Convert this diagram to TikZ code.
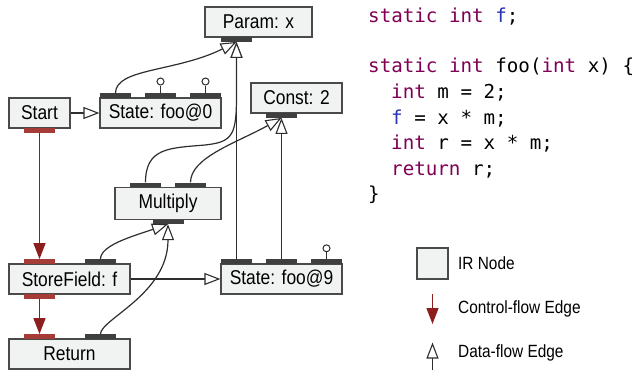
\documentclass[tikz,border=0pt]{standalone}
\usepackage{fontspec}
\setmainfont{Liberation Sans}
\newfontfamily\nodefont[FakeStretch=0.87]{Liberation Sans}
\newfontfamily\codefont{DejaVu Sans Mono}
\usetikzlibrary{arrows.meta}
\definecolor{boxfill}{HTML}{F1F2F2}
\definecolor{boxline}{HTML}{4A4A4A}
\definecolor{portdark}{HTML}{3F3F3F}
\definecolor{portred}{RGB}{165,60,55}
\definecolor{ctrlred}{RGB}{140,30,30}
\definecolor{kwpurple}{RGB}{127,0,85}
\definecolor{fieldblue}{RGB}{40,50,180}
\definecolor{edgegray}{HTML}{2E2E2E}
\tikzset{
  irnode/.style={draw=boxline, fill=boxfill, line width=1.2pt, inner sep=0pt, minimum height=30pt, font=\nodefont\fontsize{20}{24}\selectfont},
  dport/.style={fill=portdark, inner sep=0pt, minimum width=31pt, minimum height=4.5pt},
  rport/.style={dport, fill=portred},
  pincirc/.style={circle, draw=edgegray, fill=white, line width=1pt, inner sep=0pt, minimum size=7pt},
  pinline/.style={draw=edgegray, line width=1pt},
  dflow/.style={draw=edgegray, line width=1.2pt, -{Triangle[length=16pt,width=12pt,fill=white,line width=1.1pt]}},
  cflow/.style={draw=ctrlred, line width=1.3pt, -{Triangle[length=16pt,width=12pt]}},
  codeline/.style={anchor=base west, inner sep=0pt, font=\codefont\fontsize{19.2}{23}\selectfont},
  legtext/.style={anchor=west, inner sep=0pt, font=\nodefont\fontsize{17.7}{21}\selectfont}
}
\begin{document}
\begin{tikzpicture}[x=1pt,y=-1pt]
\useasboundingbox (0,0) rectangle (639,370);
% IR nodes
\node[irnode, minimum width=107pt] (param) at (258.5,22) {Param: x};
\node[irnode, minimum width=61pt] (start) at (39.5,113) {Start};
\node[irnode, minimum width=121pt] (s0) at (160.5,113) {State: foo@0};
\node[irnode, minimum width=91pt] (const) at (296.5,98) {Const: 2};
\node[irnode, minimum width=106pt, minimum height=32pt] (mul) at (168,203.3) {Multiply};
\node[irnode, minimum width=121pt] (store) at (69.5,279) {StoreField: f};
\node[irnode, minimum width=121pt] (s9) at (281.5,279) {State: foo@9};
\node[irnode, minimum width=121pt] (ret) at (69.5,354) {Return};
% ports
\node[dport, anchor=north] (paramo) at (236.5,37) {};
\node[rport, anchor=north] (starto) at (39.5,128) {};
\node[dport, anchor=south] (s0a) at (115.5,98) {};
\node[dport, anchor=south] (s0b) at (160.5,98) {};
\node[dport, anchor=south] (s0c) at (205.5,98) {};
\node[dport, anchor=north] (consto) at (281.5,113) {};
\node[dport, anchor=south] (mula) at (145.5,187.3) {};
\node[dport, anchor=south] (mulb) at (190.5,187.3) {};
\node[dport, anchor=north] (mulo) at (168,219.3) {};
\node[rport, anchor=south] (storea) at (39.5,264) {};
\node[dport, anchor=south] (storeb) at (100.5,264) {};
\node[rport, anchor=north] (storeo) at (39.5,294) {};
\node[dport, anchor=south] (s9a) at (236.5,264) {};
\node[dport, anchor=south] (s9b) at (281.5,264) {};
\node[dport, anchor=south] (s9c) at (326.5,264) {};
\node[rport, anchor=south] (reta) at (39.5,339) {};
\node[dport, anchor=south] (retb) at (100.5,339) {};
% pins
\node[pincirc] (s0bp) at (160.5,81.5) {};
\node[pincirc] (s0cp) at (205.5,81.5) {};
\node[pincirc] (s9cp) at (326.5,248.3) {};
\draw[pinline] (s0b) -- (s0bp);
\draw[pinline] (s0c) -- (s0cp);
\draw[pinline] (s9c) -- (s9cp);
% control flow
\draw[cflow] (starto) -- (storea);
\draw[cflow] (storeo) -- (reta);
% data flow
\draw[dflow] (start) -- (s0);
\draw[dflow] (store) -- (s9);
\draw[dflow] (s9a) -- (paramo);
\draw[dflow] (s9b) -- (consto);
\draw[dflow] (s0a.north) .. controls +(0,-25) and +(-60,30) .. (paramo.south);
\draw[dflow] (mula.north) .. controls +(0,-35) and +(-35,3) .. (205,145) .. controls +(28,-3) and +(0,40) .. (236.5,95) -- (paramo.south);
\draw[dflow] (mulb.north) .. controls +(0,-25) and +(-45,25) .. (consto.south);
\draw[dflow] (storeb.north) .. controls +(0,-14) and +(-35,12) .. (mulo.south);
\draw[dflow] (retb.north) .. controls +(0,-15) and +(0,70) .. (mulo.south);
% code
\node[codeline] (c1) at (368,22.7) {\textcolor{kwpurple}{static int} \textcolor{fieldblue}{f};};
\node[codeline] (c2) at (368,72.9) {\textcolor{kwpurple}{static int} foo(\textcolor{kwpurple}{int} x) \{};
\node[codeline] (c3) at (391,98.8) {\textcolor{kwpurple}{int} m = 2;};
\node[codeline] (c4) at (391,124) {\textcolor{fieldblue}{f} = x * m;};
\node[codeline] (c5) at (391,149.5) {\textcolor{kwpurple}{int} r = x * m;};
\node[codeline] (c6) at (391,175) {\textcolor{kwpurple}{return} r;};
\node[codeline] (c7) at (368,200) {\}};
% legend
\node[irnode, minimum width=31pt, minimum height=31pt] (leg) at (432.5,263.5) {};
\node[legtext] (legt1) at (458,263.5) {IR Node};
\coordinate (cfa) at (432.5,294);
\coordinate (cfb) at (432.5,324);
\draw[cflow] (cfa) -- (cfb);
\node[legtext] (legt2) at (458,309) {Control-flow Edge};
\coordinate (dfa) at (432.5,370);
\coordinate (dfb) at (432.5,342.5);
\draw[dflow] (dfa) -- (dfb);
\node[legtext] (legt3) at (458,353) {Data-flow Edge};
\end{tikzpicture}
\end{document}
